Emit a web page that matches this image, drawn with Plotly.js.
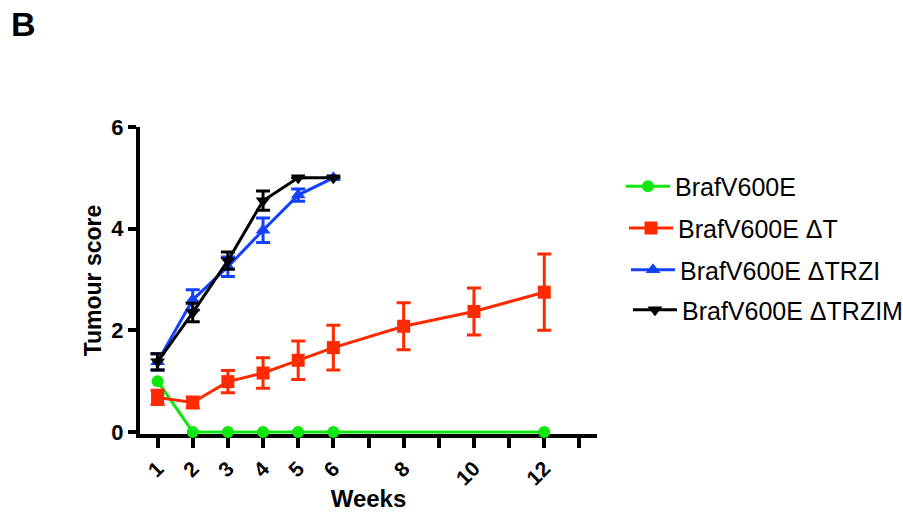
<!DOCTYPE html>
<html>
<head>
<meta charset="utf-8">
<script src="https://cdn.plot.ly/plotly-3.0.1.min.js"></script>
<style>html,body{margin:0;padding:0;background:#fff;}#chart{width:903px;height:512px;}</style>
</head>
<body>
<div id="chart"></div>
<script>
// ---- data ----
const seriesNames = ["BrafV600E", "BrafV600E \u0394T", "BrafV600E \u0394TRZI", "BrafV600E \u0394TRZIM"];

const weeksGreen = [1, 2, 3, 4, 5, 6, 12];
const scoreGreen = [1.0, 0, 0, 0, 0, 0, 0];

const weeksRed = [1, 2, 3, 4, 5, 6, 8, 10, 12];
const scoreRed = [0.68, 0.58, 0.99, 1.16, 1.41, 1.66, 2.08, 2.37, 2.75];
const errRed   = [0.14, 0.11, 0.22, 0.30, 0.38, 0.44, 0.46, 0.46, 0.75];

const weeksBlue = [1, 2, 3, 4, 5, 6];
const scoreBlue = [1.38, 2.60, 3.25, 3.97, 4.66, 5.0];
const errBlue   = [0.16, 0.20, 0.19, 0.24, 0.12, 0];

const weeksBlack = [1, 2, 3, 4, 5, 6];
const scoreBlack = [1.38, 2.35, 3.37, 4.55, 5.0, 5.0];
const errBlack   = [0.16, 0.18, 0.17, 0.19, 0, 0];

const xTickVals = [1, 2, 3, 4, 5, 6, 7, 8, 9, 10, 11, 12, 13];
const xTickText = ["1", "2", "3", "4", "5", "6", "", "8", "", "10", "", "12", ""];
const yTickVals = [0, 2, 4, 6];

// ---- styling ----
const FONT = "Liberation Sans, Arial, sans-serif";
const colors = ["#10e610", "#ff2a00", "#1440ff", "#000000"];
const symbols = ["circle", "square", "triangle-up", "triangle-down"];

function errCfg(arr, c) {
  return {type: "data", array: arr, visible: true, color: c, thickness: 3, width: 7};
}

const traces = [
  {x: weeksGreen, y: scoreGreen, name: seriesNames[0], legend: "legend",
   mode: "lines+markers", line: {color: colors[0], width: 3},
   marker: {symbol: symbols[0], size: 12, color: colors[0]}, cliponaxis: false},
  {x: weeksRed, y: scoreRed, name: seriesNames[1], legend: "legend2",
   mode: "lines+markers", line: {color: colors[1], width: 3},
   marker: {symbol: symbols[1], size: 13, color: colors[1]},
   error_y: errCfg(errRed, colors[1]), cliponaxis: false},
  {x: weeksBlue, y: scoreBlue, name: seriesNames[2], legend: "legend3",
   mode: "lines+markers", line: {color: colors[2], width: 3},
   marker: {symbol: symbols[2], size: 13, color: colors[2]},
   error_y: errCfg(errBlue, colors[2]), cliponaxis: false},
  {x: weeksBlack, y: scoreBlack, name: seriesNames[3], legend: "legend4",
   mode: "lines+markers", line: {color: colors[3], width: 3},
   marker: {symbol: symbols[3], size: 13, color: colors[3]},
   error_y: errCfg(errBlack, colors[3]), cliponaxis: false}
];

const legFont = {family: FONT, size: 25, color: "#000"};
function leg(px, py) {
  return {x: px / 903, y: 1 - py / 512, xref: "container", yref: "container",
          xanchor: "left", yanchor: "middle",
          font: legFont, bgcolor: "rgba(0,0,0,0)", borderwidth: 0, itemwidth: 44};
}

const layout = {
  width: 903, height: 512,
  margin: {l: 140, r: 306, t: 127, b: 78, pad: 0, autoexpand: false},
  paper_bgcolor: "#fff", plot_bgcolor: "#fff",
  font: {family: FONT, color: "#000"},
  showlegend: true,
  legend: leg(621, 186.5),
  legend2: leg(624, 228.3),
  legend3: leg(626, 270),
  legend4: leg(628, 310),
  xaxis: {
    range: [0.5, 13.5], tickmode: "array", tickvals: xTickVals, ticktext: xTickText,
    tickangle: -45, ticks: "outside", ticklen: 10, tickwidth: 4, tickcolor: "#000",
    showline: true, linewidth: 4, linecolor: "#000", showgrid: false, zeroline: false,
    tickfont: {family: FONT, size: 21, weight: 700, color: "#000"},
    layer: "below traces",
    title: {text: "Weeks", font: {family: FONT, size: 24, weight: 700, color: "#000"}, standoff: 19}
  },
  yaxis: {
    range: [-0.04, 6.0], tickmode: "array", tickvals: yTickVals,
    ticks: "outside", ticklen: 8, tickwidth: 4, tickcolor: "#000",
    showline: true, linewidth: 4, linecolor: "#000", showgrid: false, zeroline: false,
    tickfont: {family: FONT, size: 22, weight: 700, color: "#000"},
    layer: "below traces",
    title: {text: "Tumour score", font: {family: FONT, size: 23, weight: 700, color: "#000"}, standoff: 4}
  },
  annotations: [
    {text: "B", xref: "paper", yref: "paper", x: -0.286, y: 1.336, xanchor: "left", yanchor: "middle",
     showarrow: false, font: {family: FONT, size: 34, weight: 700, color: "#000"}}
  ]
};

Plotly.newPlot("chart", traces, layout, {displayModeBar: false, staticPlot: true});
</script>
</body>
</html>
